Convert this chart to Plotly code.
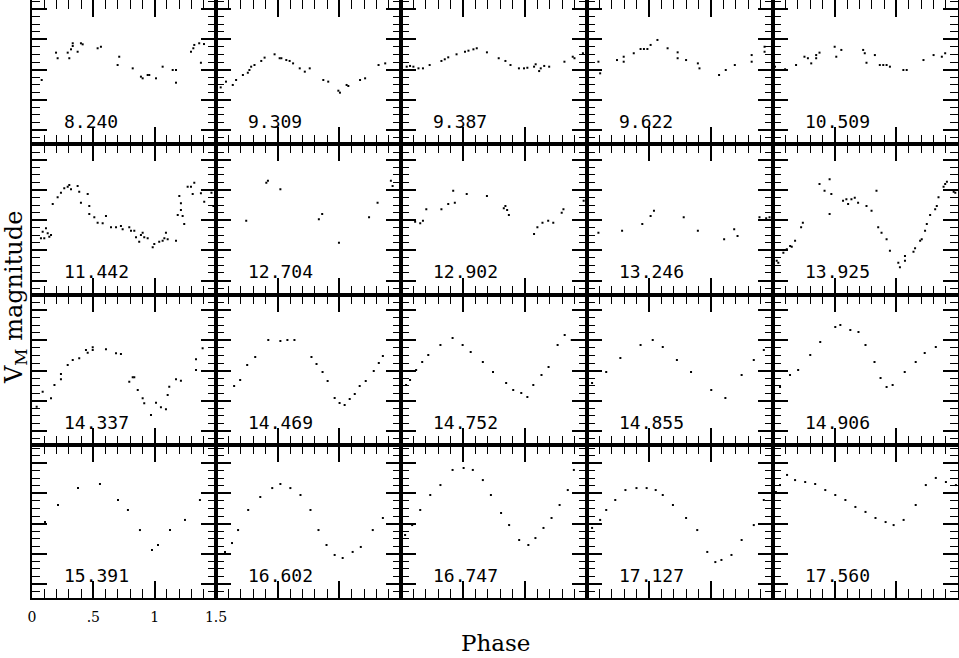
import plotly.graph_objects as go

# Period labels (days), row by row
periods = ["8.240", "9.309", "9.387", "9.622", "10.509",
           "11.442", "12.704", "12.902", "13.246", "13.925",
           "14.337", "14.469", "14.752", "14.855", "14.906",
           "15.391", "16.602", "16.747", "17.127", "17.560"]

# Phase and relative brightness (fraction of panel height, up = brighter)
ph_8240 = [0.079, 0.196, 0.209, 0.291, 0.304, 0.318, 0.332, 0.332, 0.372, 0.399, 0.413, 0.535, 0.562, 0.698, 0.711,
           0.821, 0.888, 0.902, 0.943, 0.956, 1.011, 1.065, 1.147, 1.174, 1.174, 1.296, 1.315, 1.323, 1.363, 1.377, 1.402]
br_8240 = [0.424, 0.605, 0.568, 0.605, 0.568, 0.627, 0.649, 0.667, 0.611, 0.667, 0.660, 0.634, 0.644, 0.523, 0.578,
           0.501, 0.446, 0.435, 0.457, 0.457, 0.435, 0.512, 0.490, 0.490, 0.406, 0.611, 0.634, 0.656, 0.667, 0.538, 0.662]

ph_9309 = [0.038, 0.081, 0.136, 0.163, 0.218, 0.258, 0.271, 0.285, 0.312, 0.367, 0.394, 0.475, 0.516, 0.530, 0.570,
           0.597, 0.625, 0.679, 0.720, 0.760, 0.870, 0.910, 0.992, 1.005, 1.059, 1.073, 1.168, 1.209, 1.318, 1.372]
br_9309 = [0.375, 0.413, 0.391, 0.424, 0.457, 0.472, 0.490, 0.512, 0.523, 0.550, 0.572, 0.594, 0.568, 0.568, 0.556,
           0.550, 0.534, 0.501, 0.479, 0.501, 0.424, 0.413, 0.353, 0.340, 0.391, 0.384, 0.424, 0.435, 0.523, 0.534]

ph_9387 = [0.046, 0.073, 0.100, 0.141, 0.177, 0.231, 0.326, 0.353, 0.381, 0.448, 0.516, 0.544, 0.584, 0.611, 0.693,
           0.788, 0.842, 0.883, 0.951, 0.992, 1.019, 1.073, 1.086, 1.114, 1.127, 1.155, 1.195, 1.318, 1.385, 1.399,
           1.467, 1.494]
br_9387 = [0.512, 0.517, 0.512, 0.501, 0.501, 0.523, 0.550, 0.561, 0.574, 0.594, 0.611, 0.618, 0.627, 0.634, 0.607,
           0.568, 0.550, 0.523, 0.501, 0.501, 0.505, 0.512, 0.528, 0.483, 0.501, 0.517, 0.512, 0.545, 0.578, 0.568,
           0.601, 0.611]

ph_9622 = [0.092, 0.106, 0.242, 0.296, 0.296, 0.377, 0.432, 0.459, 0.487, 0.513, 0.568, 0.650, 0.731, 0.731, 0.799,
           0.894, 0.907, 1.065, 1.119, 1.192, 1.328, 1.328, 1.432, 1.432]
br_9622 = [0.545, 0.468, 0.556, 0.578, 0.545, 0.601, 0.629, 0.629, 0.629, 0.656, 0.689, 0.634, 0.607, 0.568, 0.556,
           0.534, 0.501, 0.457, 0.490, 0.523, 0.589, 0.545, 0.644, 0.611]

ph_10509 = [0.016, 0.098, 0.187, 0.255, 0.283, 0.310, 0.350, 0.350, 0.377, 0.500, 0.513, 0.554, 0.731, 0.744, 0.758,
            0.826, 0.866, 0.894, 0.921, 0.948, 1.057, 1.084, 1.220, 1.302, 1.369, 1.396]
br_10509 = [0.512, 0.495, 0.523, 0.578, 0.568, 0.534, 0.568, 0.589, 0.605, 0.644, 0.578, 0.623, 0.623, 0.601, 0.538,
            0.589, 0.523, 0.523, 0.523, 0.512, 0.490, 0.490, 0.556, 0.589, 0.578, 0.601]

ph_11442 = [0.073, 0.087, 0.100, 0.114, 0.128, 0.141, 0.155, 0.169, 0.209, 0.236, 0.263, 0.291, 0.304, 0.318, 0.372,
            0.385, 0.399, 0.454, 0.467, 0.467, 0.508, 0.535, 0.576, 0.603, 0.644, 0.685, 0.725, 0.739, 0.793, 0.807,
            0.834, 0.848, 0.874, 0.888, 0.902, 0.915, 0.943, 0.984, 0.997, 1.037, 1.065, 1.079, 1.092, 1.106, 1.174,
            1.188, 1.201, 1.214, 1.214, 1.228, 1.241, 1.269, 1.296, 1.310, 1.323, 1.377, 1.404, 1.463, 1.479]
br_11442 = [0.372, 0.416, 0.372, 0.438, 0.405, 0.383, 0.394, 0.599, 0.644, 0.674, 0.703, 0.714, 0.725, 0.697, 0.719,
            0.681, 0.608, 0.666, 0.586, 0.533, 0.511, 0.475, 0.472, 0.520, 0.445, 0.445, 0.454, 0.432, 0.445, 0.423,
            0.423, 0.379, 0.350, 0.394, 0.409, 0.379, 0.372, 0.313, 0.334, 0.350, 0.356, 0.372, 0.409, 0.366, 0.356,
            0.526, 0.652, 0.604, 0.560, 0.520, 0.467, 0.714, 0.714, 0.666, 0.740, 0.670, 0.615, 0.674, 0.586]

ph_12704 = [0.245, 0.408, 0.421, 0.522, 0.834, 0.861, 0.997, 1.241, 1.310, 1.418, 1.432]
br_12704 = [0.489, 0.740, 0.754, 0.697, 0.498, 0.533, 0.343, 0.511, 0.608, 0.754, 0.719]

ph_12902 = [0.114, 0.155, 0.177, 0.204, 0.326, 0.381, 0.421, 0.434, 0.530, 0.693, 0.829, 0.842, 0.856, 0.870, 1.073,
            1.100, 1.141, 1.187, 1.228, 1.296, 1.310, 1.473]
br_12902 = [0.482, 0.472, 0.489, 0.564, 0.564, 0.599, 0.687, 0.608, 0.666, 0.652, 0.571, 0.586, 0.560, 0.526, 0.401,
            0.445, 0.475, 0.489, 0.475, 0.542, 0.564, 0.621]

ph_13246 = [0.092, 0.283, 0.446, 0.513, 0.540, 0.780, 0.894, 1.106, 1.187, 1.214, 1.391, 1.445, 1.472, 1.499]
br_13246 = [0.409, 0.423, 0.467, 0.520, 0.555, 0.511, 0.423, 0.366, 0.432, 0.387, 0.511, 0.505, 0.511, 0.489]

ph_13925 = [0.030, 0.043, 0.084, 0.112, 0.139, 0.152, 0.179, 0.228, 0.242, 0.377, 0.418, 0.459, 0.459, 0.473, 0.568,
            0.595, 0.609, 0.636, 0.663, 0.690, 0.758, 0.799, 0.839, 0.853, 0.880, 0.921, 0.948, 1.016, 1.029, 1.070,
            1.070, 1.139, 1.152, 1.193, 1.206, 1.233, 1.247, 1.274, 1.315, 1.328, 1.342, 1.383, 1.396, 1.410, 1.465,
            1.478]
br_13925 = [0.224, 0.211, 0.277, 0.299, 0.321, 0.317, 0.356, 0.445, 0.475, 0.732, 0.687, 0.763, 0.533, 0.666, 0.621,
            0.630, 0.599, 0.630, 0.641, 0.608, 0.586, 0.555, 0.687, 0.445, 0.409, 0.366, 0.290, 0.211, 0.180, 0.224,
            0.255, 0.283, 0.306, 0.356, 0.366, 0.423, 0.467, 0.526, 0.564, 0.586, 0.644, 0.714, 0.732, 0.747, 0.681,
            0.674]

ph_14337 = [0.038, 0.087, 0.155, 0.183, 0.236, 0.236, 0.291, 0.332, 0.385, 0.440, 0.454, 0.495, 0.495, 0.603, 0.685,
            0.725, 0.793, 0.821, 0.834, 0.862, 0.902, 0.915, 0.970, 1.011, 1.051, 1.092, 1.106, 1.119, 1.174, 1.214,
            1.337, 1.337, 1.391]
br_14337 = [0.254, 0.353, 0.309, 0.397, 0.435, 0.470, 0.530, 0.563, 0.574, 0.629, 0.611, 0.647, 0.629, 0.634, 0.607,
            0.603, 0.419, 0.448, 0.448, 0.364, 0.309, 0.276, 0.199, 0.280, 0.250, 0.236, 0.331, 0.386, 0.435, 0.426,
            0.497, 0.568, 0.640]

ph_14469 = [0.147, 0.196, 0.253, 0.318, 0.424, 0.522, 0.579, 0.636, 0.774, 0.815, 0.864, 0.905, 0.962, 1.002, 1.043,
            1.084, 1.125, 1.165, 1.214, 1.279, 1.320, 1.353]
br_14469 = [0.391, 0.430, 0.530, 0.583, 0.695, 0.689, 0.695, 0.695, 0.583, 0.536, 0.483, 0.424, 0.311, 0.278, 0.265,
            0.305, 0.338, 0.391, 0.424, 0.490, 0.543, 0.589]

ph_14752 = [0.041, 0.073, 0.122, 0.171, 0.220, 0.318, 0.416, 0.497, 0.562, 0.660, 0.742, 0.848, 0.905, 0.970, 1.019,
            1.067, 1.133, 1.190, 1.263, 1.320, 1.377]
br_14752 = [0.397, 0.430, 0.497, 0.550, 0.596, 0.662, 0.709, 0.662, 0.616, 0.550, 0.483, 0.411, 0.364, 0.344, 0.318,
            0.397, 0.464, 0.517, 0.662, 0.728, 0.695]

ph_14855 = [0.041, 0.155, 0.269, 0.432, 0.530, 0.611, 0.725, 0.839, 1.002, 1.116, 1.247, 1.345, 1.426]
br_14855 = [0.411, 0.483, 0.576, 0.662, 0.695, 0.649, 0.563, 0.483, 0.364, 0.311, 0.464, 0.563, 0.629]

ph_14906 = [0.057, 0.138, 0.204, 0.302, 0.383, 0.505, 0.546, 0.627, 0.693, 0.750, 0.823, 0.872, 0.921, 0.970, 1.068,
            1.157, 1.230, 1.320]
br_14906 = [0.384, 0.464, 0.497, 0.596, 0.682, 0.781, 0.795, 0.762, 0.748, 0.662, 0.550, 0.444, 0.384, 0.397, 0.483,
            0.550, 0.609, 0.649]

ph_15391 = [0.106, 0.212, 0.375, 0.554, 0.701, 0.782, 0.880, 0.978, 1.027, 1.125, 1.247, 1.369]
br_15391 = [0.503, 0.616, 0.728, 0.755, 0.649, 0.583, 0.450, 0.318, 0.351, 0.450, 0.517, 0.649]

ph_16602 = [0.073, 0.130, 0.179, 0.261, 0.359, 0.456, 0.522, 0.603, 0.685, 0.766, 0.831, 0.896, 0.962, 1.027, 1.108,
            1.174, 1.271, 1.353]
br_16602 = [0.305, 0.364, 0.450, 0.583, 0.669, 0.728, 0.755, 0.728, 0.682, 0.583, 0.450, 0.351, 0.285, 0.265, 0.305,
            0.338, 0.450, 0.530]

ph_16747 = [0.033, 0.090, 0.155, 0.236, 0.318, 0.416, 0.505, 0.579, 0.660, 0.725, 0.807, 0.872, 0.953, 1.027, 1.084,
            1.149, 1.214, 1.279, 1.345, 1.394]
br_16747 = [0.417, 0.483, 0.583, 0.682, 0.748, 0.848, 0.861, 0.848, 0.781, 0.682, 0.563, 0.483, 0.384, 0.351, 0.397,
            0.464, 0.530, 0.616, 0.715, 0.848]

ph_17127 = [0.041, 0.106, 0.155, 0.228, 0.310, 0.399, 0.481, 0.554, 0.611, 0.693, 0.799, 0.889, 0.970, 1.035, 1.084,
            1.165, 1.247, 1.345, 1.426]
br_17127 = [0.464, 0.517, 0.583, 0.649, 0.715, 0.728, 0.728, 0.715, 0.682, 0.616, 0.530, 0.450, 0.305, 0.238, 0.252,
            0.285, 0.384, 0.483, 0.649]

ph_17560 = [0.024, 0.057, 0.114, 0.179, 0.261, 0.342, 0.424, 0.505, 0.587, 0.668, 0.750, 0.831, 0.913, 0.978, 1.059,
            1.157, 1.239, 1.320, 1.402, 1.483]
br_17560 = [0.702, 0.748, 0.815, 0.781, 0.768, 0.755, 0.715, 0.682, 0.649, 0.603, 0.570, 0.530, 0.503, 0.483, 0.517,
            0.616, 0.748, 0.795, 0.768, 0.748]

panel_phases = [ph_8240, ph_9309, ph_9387, ph_9622, ph_10509,
                ph_11442, ph_12704, ph_12902, ph_13246, ph_13925,
                ph_14337, ph_14469, ph_14752, ph_14855, ph_14906,
                ph_15391, ph_16602, ph_16747, ph_17127, ph_17560]
panel_bright = [br_8240, br_9309, br_9387, br_9622, br_10509,
                br_11442, br_12704, br_12902, br_13246, br_13925,
                br_14337, br_14469, br_14752, br_14855, br_14906,
                br_15391, br_16602, br_16747, br_17127, br_17560]

x_tick_vals = [0, 0.5, 1, 1.5]
x_tick_text = ["0", ".5", "1", "1.5"]

# ---------------- layout ----------------
W, H = 959, 658
col_px = [32, 216, 401, 587, 773, 958]
row_px = [0, 144, 294.5, 445, 598]
full_h = 151.0

fig = go.Figure()
layout = dict(width=W, height=H, margin=dict(l=0, r=0, t=0, b=0, pad=0), template="none",
              paper_bgcolor="white", plot_bgcolor="white", showlegend=False)

for i in range(20):
    r, c = divmod(i, 5)
    n = i + 1
    xk = "xaxis" if n == 1 else f"xaxis{n}"
    yk = "yaxis" if n == 1 else f"yaxis{n}"
    xd = [col_px[c] / W, col_px[c + 1] / W]
    yd = [(H - row_px[r + 1]) / H, (H - row_px[r]) / H]
    ytop = (row_px[r + 1] - row_px[r]) / full_h
    bottom_left = (r == 3 and c == 0)
    layout[xk] = dict(domain=xd, range=[0, 1.5], anchor=f"y{n}", automargin=False,
                      showgrid=False, zeroline=False, showline=True, linecolor="black", linewidth=2,
                      mirror="allticks", ticks="inside", ticklen=17, tickwidth=2, tickcolor="black",
                      tickvals=x_tick_vals, ticktext=x_tick_text,
                      showticklabels=bottom_left,
                      tickfont=dict(family="DejaVu Serif", size=14, color="black"),
                      ticklabelstandoff=5,
                      minor=dict(dtick=0.1, tick0=0, ticks="inside", ticklen=9, tickwidth=1, tickcolor="black"))
    layout[yk] = dict(domain=yd, range=[0, ytop], anchor=f"x{n}", automargin=False,
                      showgrid=False, zeroline=False, showline=True, linecolor="black", linewidth=2,
                      mirror="allticks", ticks="inside", ticklen=15, tickwidth=2, tickcolor="black",
                      tick0=14 / full_h, dtick=0.2, showticklabels=False,
                      minor=dict(dtick=0.05, tick0=14 / full_h, ticks="inside", ticklen=8, tickwidth=1,
                                 tickcolor="black"))
    fig.add_trace(go.Scatter(x=panel_phases[i], y=panel_bright[i], mode="markers",
                             marker=dict(size=2, color="black", symbol="square", line=dict(width=0)),
                             xaxis=f"x{n}", yaxis=f"y{n}", hoverinfo="skip", cliponaxis=True))

annotations = []
for i in range(20):
    n = i + 1
    annotations.append(dict(text=periods[i], x=0.245, y=0.152, xref=f"x{n}", yref=f"y{n}",
                            xanchor="left", yanchor="middle", showarrow=False,
                            font=dict(family="DejaVu Sans Mono", size=18, color="black")))
annotations.append(dict(text="Phase", x=495 / W, y=(H - 643) / H, xref="paper", yref="paper",
                        xanchor="center", yanchor="middle", showarrow=False, borderpad=0,
                        font=dict(family="DejaVu Serif", size=23, color="black")))
annotations.append(dict(text="V<sub>M</sub> magnitude", x=15 / W, y=(H - 298) / H, xref="paper", yref="paper",
                        xanchor="center", yanchor="middle", showarrow=False, textangle=-90, borderpad=0,
                        font=dict(family="DejaVu Serif", size=24, color="black")))
layout["annotations"] = annotations
fig.update_layout(**layout)
fig.write_html("out.html", config={"displayModeBar": False},
               post_script="document.body.style.margin='0';document.body.style.padding='0';")
